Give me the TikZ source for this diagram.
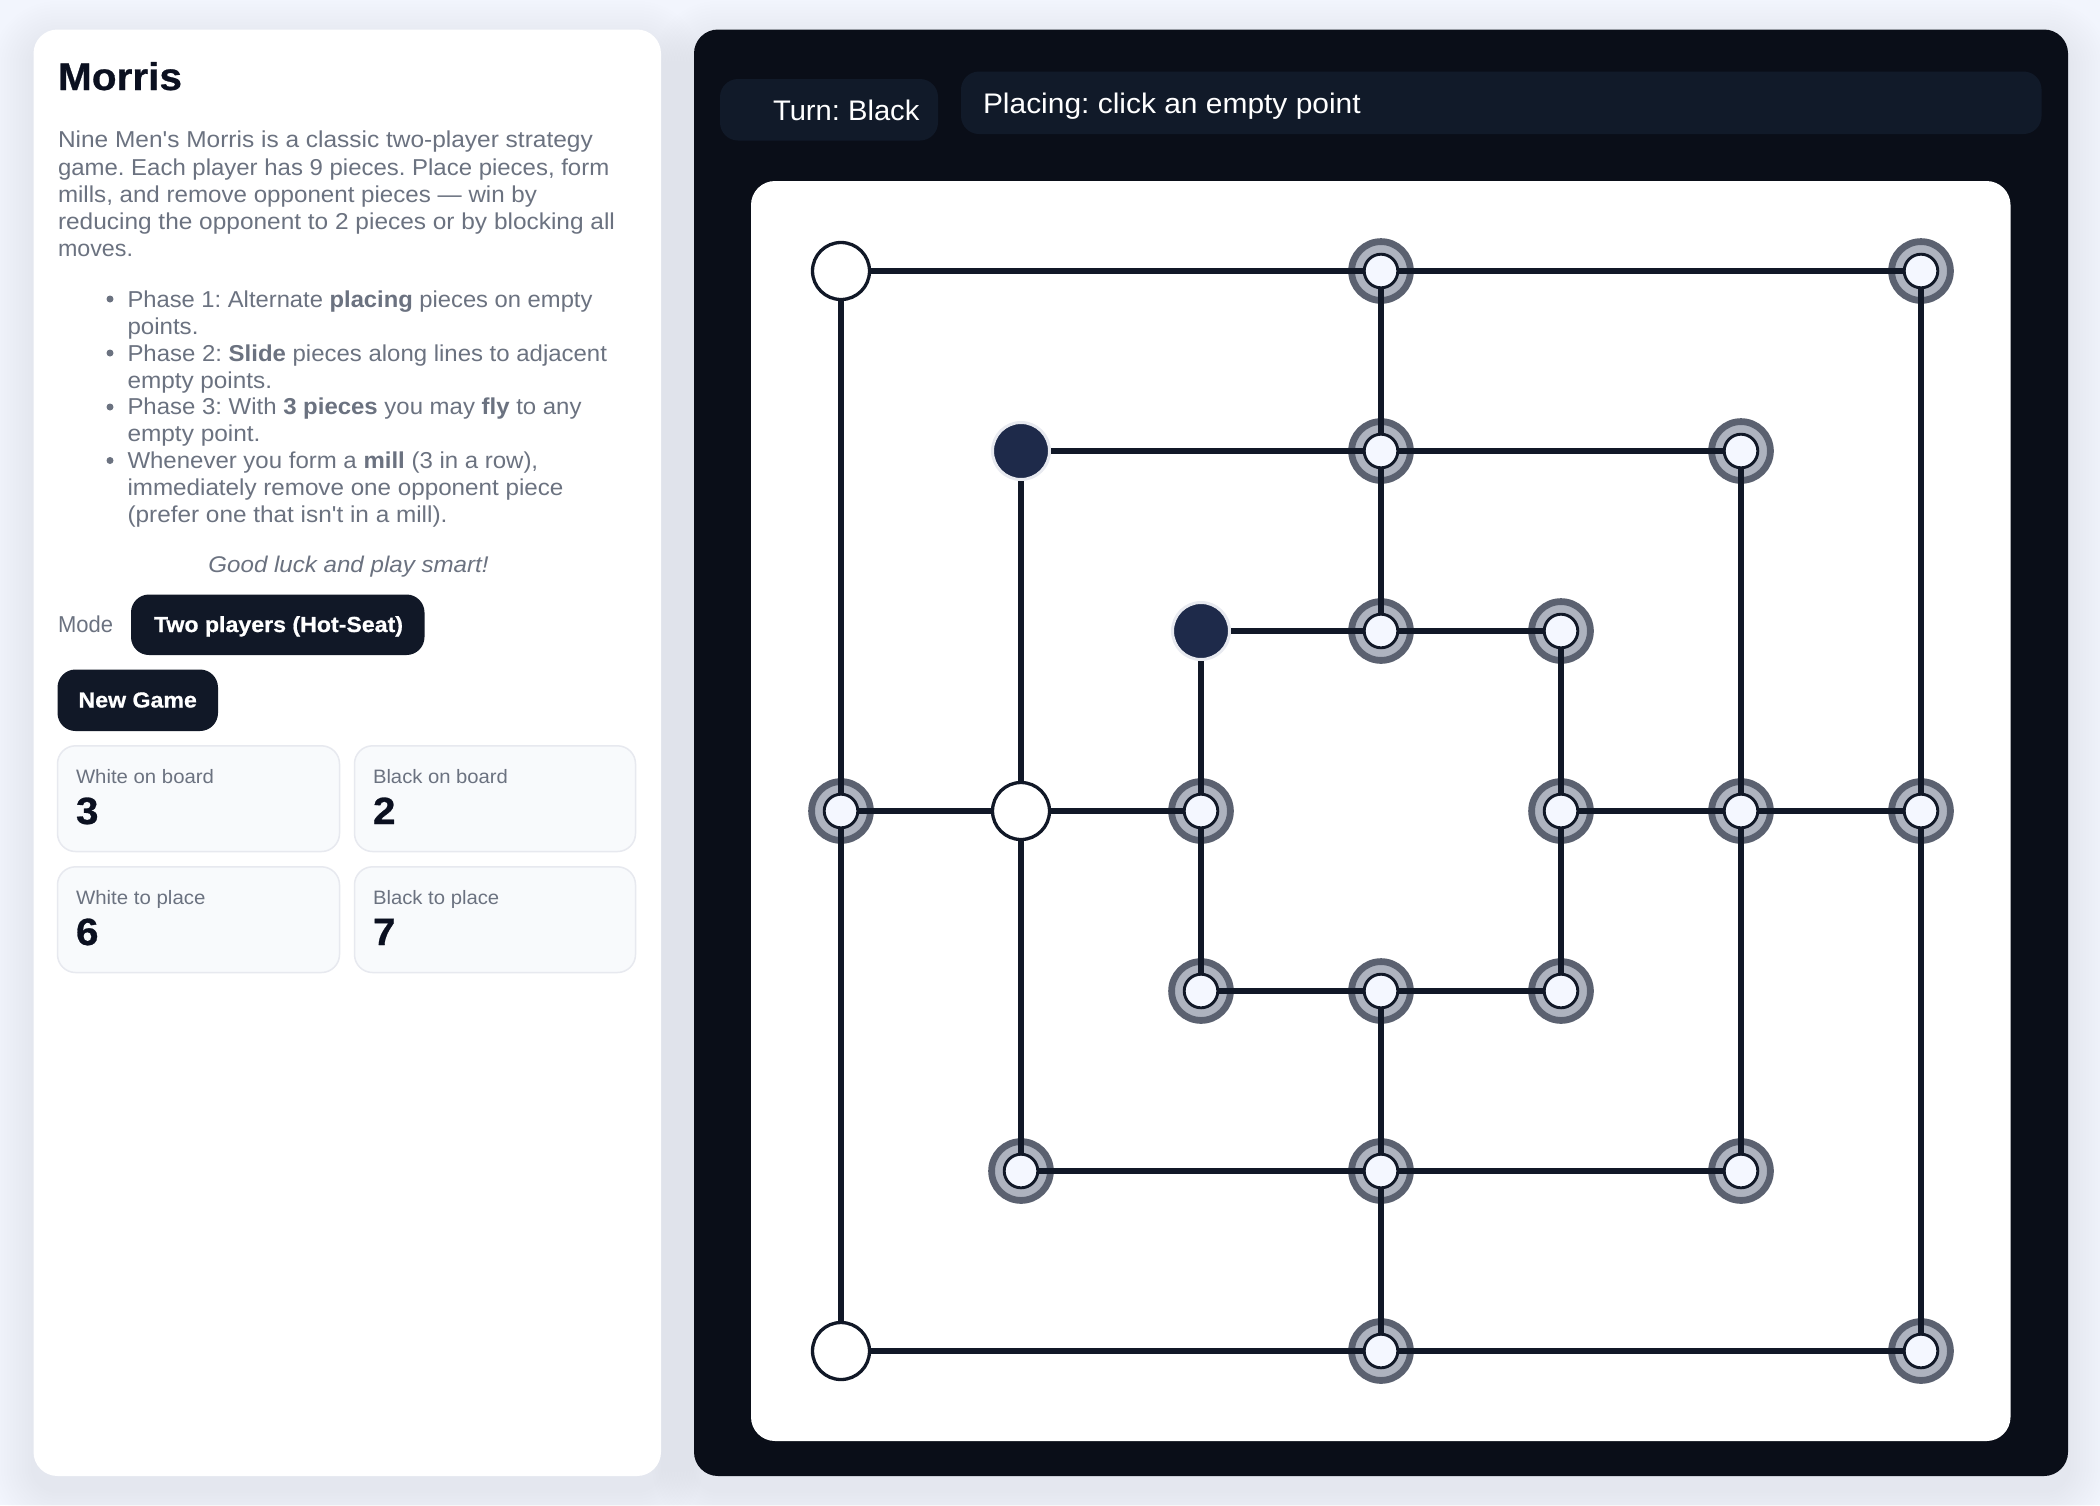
\documentclass[tikz,border=0pt]{standalone}
\usepackage{fontspec}
\newfontfamily\uif{Liberation Sans}[FakeStretch=1.065]
\newfontfamily\heavyf{Liberation Sans Bold}[FakeStretch=1.065,FakeBold=0.7]
\newcommand\fitw[2]{\resizebox{#1pt}{\height}{#2}}
\definecolor{pagebg}{HTML}{F2F5FD}
\definecolor{ink}{HTML}{111827}
\definecolor{deep}{HTML}{0B1020}
\definecolor{muted}{HTML}{6B7280}
\definecolor{stage}{HTML}{0A0E18}
\definecolor{barbg}{HTML}{111A29}
\definecolor{cardbg}{HTML}{F8FAFC}
\definecolor{cardline}{HTML}{E7E9EF}
\definecolor{halodark}{HTML}{5B6170}
\definecolor{halolight}{HTML}{AEB3BF}
\definecolor{spotfill}{HTML}{F4F7FF}
\definecolor{navy}{HTML}{1E2A4A}
\definecolor{navyedge}{HTML}{E8EAF0}
\tikzset{
  txt/.style={anchor=base west,inner sep=0pt,outer sep=0pt},
  body/.style={txt,text=muted,font=\uif\frenchspacing\fontsize{23}{27}\selectfont},
  small/.style={txt,text=muted,font=\uif\frenchspacing\fontsize{19.4}{24}\selectfont},
  btnlabel/.style={txt,text=white,font=\heavyf\frenchspacing\fontsize{21.8}{26}\selectfont},
  statnum/.style={txt,text=deep,font=\heavyf\fontsize{38}{44}\selectfont},
  bartext/.style={txt,text=white,font=\uif\frenchspacing\fontsize{28.3}{34}\selectfont},
  dot/.style={circle,fill=muted,inner sep=0pt,minimum size=7pt},
  card/.style={fill=cardbg,draw=cardline,line width=1.5pt,rounded corners=18pt},
  halo/.style={circle,draw=halodark,fill=halolight,line width=6.8pt,inner sep=0pt,minimum size=58.8pt},
  spot/.style={circle,draw=ink,fill=spotfill,line width=2.9pt,inner sep=0pt,minimum size=33.6pt},
  whitepiece/.style={circle,draw=ink,fill=white,line width=3.3pt,inner sep=0pt,minimum size=57pt},
  blackpiece/.style={circle,draw=navyedge,fill=navy,line width=3pt,inner sep=0pt,minimum size=57pt},
  conn/.style={draw=ink,line width=6.8pt},
}
\begin{document}
\begin{tikzpicture}[x=1pt,y=-1pt]
\useasboundingbox (0,0) rectangle (2100,1505);
\fill[pagebg] (0,0) rectangle (2100,1505);
% soft panel shadows
\foreach \i in {1,...,14}{
  \fill[ink,opacity=0.0045,rounded corners={24pt+\i*3pt}] ({33.5-\i*3},{43-\i*3}) rectangle ({661+\i*3},{1490+\i*3});
  \fill[ink,opacity=0.0045,rounded corners={24pt+\i*3pt}] ({694-\i*3},{43-\i*3}) rectangle ({2068+\i*3},{1490+\i*3});
}
% panels
\fill[white,rounded corners=24pt] (33.5,29.5) rectangle (661,1476);
\fill[stage,rounded corners=24pt] (694,29.5) rectangle (2068,1476);
\fill[white,rounded corners=24pt] (751,181) rectangle (2010.5,1441);
% left column text
\node[txt,text=deep,font=\heavyf\fontsize{38.6}{44}\selectfont] (title) at (58,90) {\fitw{124}{Morris}};
\node[body] (p1) at (58,147.5) {\fitw{534.8}{Nine Men's Morris is a classic two-player strategy}};
\node[body] (p2) at (58,175) {\fitw{551.3}{game. Each player has 9 pieces. Place pieces, form}};
\node[body] (p3) at (58,202) {\fitw{479}{mills, and remove opponent pieces — win by}};
\node[body] (p4) at (58,229) {\fitw{557}{reducing the opponent to 2 pieces or by blocking all}};
\node[body] (p5) at (58,256) {\fitw{75}{moves.}};
\node[dot] (b1) at (110,299) {};
\node[dot] (b2) at (110,353) {};
\node[dot] (b3) at (110,407) {};
\node[dot] (b4) at (110,460.5) {};
\node[body] (l1) at (127.5,307) {\fitw{465}{Phase 1: Alternate \textbf{placing} pieces on empty}};
\node[body] (l2) at (127.5,334) {\fitw{71}{points.}};
\node[body] (l3) at (127.5,361) {\fitw{479.5}{Phase 2: \textbf{Slide} pieces along lines to adjacent}};
\node[body] (l4) at (127.5,388) {\fitw{144.6}{empty points.}};
\node[body] (l5) at (127.5,414.5) {\fitw{454}{Phase 3: With \textbf{3 pieces} you may \textbf{fly} to any}};
\node[body] (l6) at (127.5,441.5) {\fitw{133}{empty point.}};
\node[body] (l7) at (127.5,468.5) {\fitw{410.7}{Whenever you form a \textbf{mill} (3 in a row),}};
\node[body] (l8) at (127.5,495.5) {\fitw{436}{immediately remove one opponent piece}};
\node[body] (l9) at (127.5,522.5) {\fitw{320}{(prefer one that isn't in a mill).}};
\node[body,anchor=base,font=\uif\itshape\frenchspacing\fontsize{22.7}{27}\selectfont] (luck) at (348.5,572) {\fitw{280}{Good luck and play smart!}};
\node[body] (modelabel) at (58,632) {\fitw{55}{Mode}};
\fill[ink,rounded corners=18pt] (131,594.5) rectangle (424.5,655);
\node[btnlabel] (modebtn) at (154,632) {\fitw{249}{Two players (Hot-Seat)}};
\fill[ink,rounded corners=18pt] (57.5,669.5) rectangle (218,731);
\node[btnlabel] (newgame) at (78.5,707.5) {\fitw{118.4}{New Game}};
% stat cards
\draw[card] (57.5,745.8) rectangle (339.5,851.5);
\draw[card] (354.5,745.8) rectangle (635.5,851.5);
\draw[card] (57.5,866.8) rectangle (339.5,972.5);
\draw[card] (354.5,866.8) rectangle (635.5,972.5);
\node[small] (s1) at (76,783) {\fitw{138}{White on board}};
\node[statnum] (v1) at (76,824) {3};
\node[small] (s2) at (373,783) {\fitw{135}{Black on board}};
\node[statnum] (v2) at (373,824) {2};
\node[small] (s3) at (76,904) {\fitw{129.5}{White to place}};
\node[statnum] (v3) at (76,945) {6};
\node[small] (s4) at (373,904) {\fitw{126.3}{Black to place}};
\node[statnum] (v4) at (373,945) {7};
% top bar
\fill[barbg,rounded corners=18pt] (720,79) rectangle (938,140.5);
\node[bartext] (turn) at (773,120) {\fitw{146.4}{Turn: Black}};
\fill[barbg,rounded corners=18pt] (961,71.5) rectangle (2041.5,134);
\node[bartext] (status) at (983,113) {\fitw{377.7}{Placing: click an empty point}};
% board points
\foreach \c/\r in {3/0,6/0,3/1,5/1,3/2,4/2,0/3,2/3,4/3,5/3,6/3,2/4,3/4,4/4,1/5,3/5,5/5,3/6,6/6}{
  \node[halo] (h\c\r) at ({841+180*\c},{271+180*\r}) {};
  \node[spot] (n\c\r) at ({841+180*\c},{271+180*\r}) {};
}
\foreach \c/\r in {0/0,1/3,0/6}{
  \node[whitepiece] (n\c\r) at ({841+180*\c},{271+180*\r}) {};
}
\foreach \c/\r in {1/1,2/2}{
  \node[blackpiece] (n\c\r) at ({841+180*\c},{271+180*\r}) {};
}
% connectors
\foreach \a/\b in {00/30,30/60,60/63,63/66,66/36,36/06,06/03,03/00,
  11/31,31/51,51/53,53/55,55/35,35/15,15/13,13/11,
  22/32,32/42,42/43,43/44,44/34,34/24,24/23,23/22,
  30/31,31/32,03/13,13/23,43/53,53/63,34/35,35/36}{
  \draw[conn] (n\a) -- (n\b);
}
\end{tikzpicture}
\end{document}
